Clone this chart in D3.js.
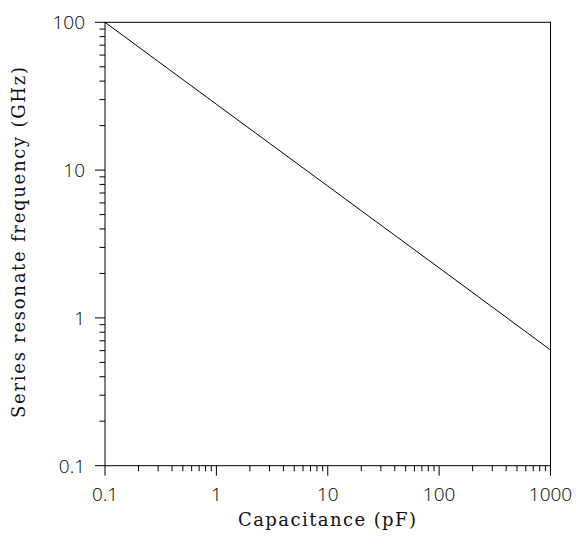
<!DOCTYPE html>
<html>
<head>
<meta charset="utf-8">
<script src="https://cdn.jsdelivr.net/npm/d3@7"></script>
<style>
  html, body { margin: 0; padding: 0; background: #fff; }
  .tick-label { font-family: "Open Sans", "Liberation Sans", sans-serif; font-weight: 300; font-size: 19px; fill: #000; }
  .axis-title { font-family: "DejaVu Serif", serif; font-size: 18px; fill: #111; }
</style>
</head>
<body>
<svg id="chart" width="576" height="545"></svg>
<script>
// Series resonant frequency versus capacitance (log-log)
const capacitance = [0.1, 1, 10, 100, 1000];          // pF
const frequency   = [100, 27.9, 7.8, 2.18, 0.607];     // GHz
const xTickValues = [0.1, 1, 10, 100, 1000];
const xTickLabels = ["0.1", "1", "10", "100", "1000"];
const yTickValues = [0.1, 1, 10, 100];
const yTickLabels = ["0.1", "1", "10", "100"];

const svg = d3.select("#chart");
const plotLeft = 105, plotRight = 550.5, plotTop = 22.3, plotBottom = 465.7;

const x = d3.scaleLog().domain([0.1, 1000]).range([plotLeft, plotRight]);
const y = d3.scaleLog().domain([0.1, 100]).range([plotBottom, plotTop]);

// minor tick positions: 2..9 within each decade
function minors(domain) {
  const out = [];
  for (let e = Math.round(Math.log10(domain[0])); e < Math.round(Math.log10(domain[1])); e++) {
    for (let m = 2; m <= 9; m++) out.push(m * Math.pow(10, e));
  }
  return out;
}

const g = svg.append("g").attr("stroke", "#000").attr("stroke-width", 1).attr("fill", "none");

// frame
g.append("rect")
  .attr("x", plotLeft).attr("y", plotTop)
  .attr("width", plotRight - plotLeft).attr("height", plotBottom - plotTop);

// x ticks (outward, below)
g.selectAll("line.xmaj").data(xTickValues).join("line")
  .attr("class", "xmaj")
  .attr("x1", d => x(d)).attr("x2", d => x(d))
  .attr("y1", plotBottom).attr("y2", plotBottom + 10);
g.selectAll("line.xmin").data(minors(x.domain())).join("line")
  .attr("class", "xmin")
  .attr("x1", d => x(d)).attr("x2", d => x(d))
  .attr("y1", plotBottom).attr("y2", plotBottom + 5.5);

// y ticks (outward, left)
g.selectAll("line.ymaj").data(yTickValues).join("line")
  .attr("class", "ymaj")
  .attr("x1", plotLeft - 10).attr("x2", plotLeft)
  .attr("y1", d => y(d)).attr("y2", d => y(d));
g.selectAll("line.ymin").data(minors(y.domain())).join("line")
  .attr("class", "ymin")
  .attr("x1", plotLeft - 5.5).attr("x2", plotLeft)
  .attr("y1", d => y(d)).attr("y2", d => y(d));

// tick labels
svg.selectAll("text.xl").data(xTickValues).join("text")
  .attr("class", "tick-label xl")
  .attr("x", d => x(d)).attr("y", plotBottom + 35)
  .attr("text-anchor", "middle")
  .text((d, i) => xTickLabels[i]);
svg.selectAll("text.yl").data(yTickValues).join("text")
  .attr("class", "tick-label yl")
  .attr("x", plotLeft - 20).attr("y", d => y(d) + 7)
  .attr("text-anchor", "end")
  .text((d, i) => yTickLabels[i]);

// data line
const line = d3.line().x(d => x(d[0])).y(d => y(d[1]));
svg.append("path")
  .datum(capacitance.map((c, i) => [c, frequency[i]]))
  .attr("d", line)
  .attr("fill", "none").attr("stroke", "#000").attr("stroke-width", 1);

// axis titles (evenly spaced serif lettering)
svg.append("text").attr("class", "axis-title")
  .attr("x", 238).attr("y", 526)
  .attr("textLength", 178).attr("lengthAdjust", "spacing")
  .text("Capacitance (pF)");
svg.append("text").attr("class", "axis-title")
  .attr("transform", "translate(25, 418) rotate(-90)")
  .attr("textLength", 351).attr("lengthAdjust", "spacing")
  .text("Series resonate frequency (GHz)");
</script>
</body>
</html>
